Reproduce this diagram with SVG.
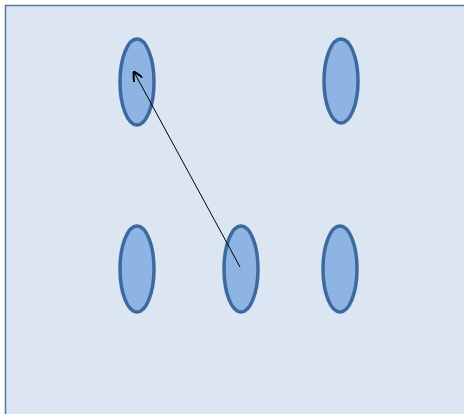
<svg xmlns="http://www.w3.org/2000/svg" width="464" height="414" viewBox="0 0 464 414">
<style>
.node{fill:#8eb4e3;stroke:#3c6a9e;stroke-width:3.5}
.conn{stroke:#000;stroke-width:1;fill:none}
</style>
<defs>
<marker id="arr" viewBox="0 0 10 10" refX="9" refY="5" markerWidth="10" markerHeight="10" markerUnits="userSpaceOnUse" orient="auto">
<path d="M0,0 L10,5 L0,10" fill="none" stroke="#000" stroke-width="2"/>
</marker>
</defs>
<rect width="464" height="414" fill="#ffffff"/>
<rect x="5.5" y="5.5" width="470" height="420" fill="#dce6f2" stroke="#56789f" stroke-width="1.5"/>
<g id="n1"><ellipse class="node" cx="137" cy="82" rx="17" ry="43"/></g>
<g id="n2"><ellipse class="node" cx="341" cy="81" rx="17" ry="42"/></g>
<g id="n3"><ellipse class="node" cx="137" cy="269" rx="17" ry="43"/></g>
<g id="n4"><ellipse class="node" cx="241" cy="269" rx="17" ry="43"/></g>
<g id="n5"><ellipse class="node" cx="340" cy="269" rx="17" ry="43"/></g>
<g id="connectors">
<line class="conn" x1="240" y1="267" x2="134" y2="72" marker-end="url(#arr)"/>
</g>
</svg>
